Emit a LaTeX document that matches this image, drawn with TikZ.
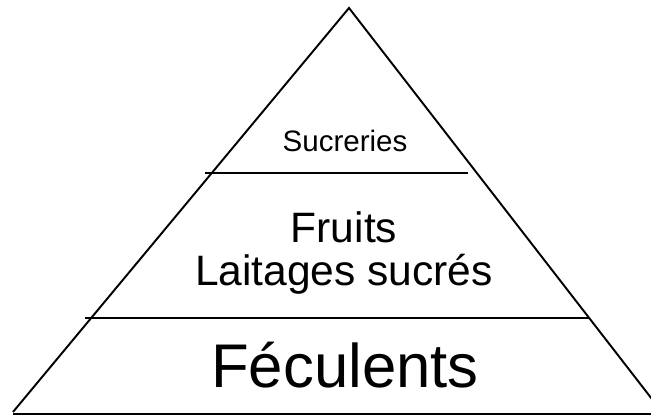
\documentclass[tikz,border=0pt]{standalone}
\usepackage{fontspec}
\setmainfont{Liberation Sans}
\usepackage{tikz}
\usetikzlibrary{calc, positioning}

\tikzset{
  level/.style={draw=black, line width=1.1pt},
  label/.style={inner sep=0pt, align=center}
}

\begin{document}
\begin{tikzpicture}
  \useasboundingbox (0,0) rectangle (13.02,8.32);
  \clip (0,0) rectangle (13.02,8.32);

  % pyramid outline
  \coordinate (apex) at (6.98,8.16);
  \coordinate (bl) at (0.26,0.08);
  \coordinate (br) at (13.24,0.08);
  \draw[level] (bl) -- (apex) -- (br);
  \draw[level] (0.26,0.04) -- (13.4,0.04);

  % levels
  \draw[level] (4.10,4.86) -- (9.36,4.86);
  \draw[level] (1.70,1.96) -- (11.80,1.96);

  \node[label, font=\fontsize{16.8}{18}\selectfont] (top) at (6.90,5.50) {Sucreries};
  \node[label, font=\fontsize{24.2}{24.4}\selectfont] (mid) at (6.88,3.26) {Fruits\\Laitages sucrés};
  \node[label, font=\fontsize{35.1}{36}\selectfont] (base) at (6.90,1.02) {Féculents};
\end{tikzpicture}
\end{document}
